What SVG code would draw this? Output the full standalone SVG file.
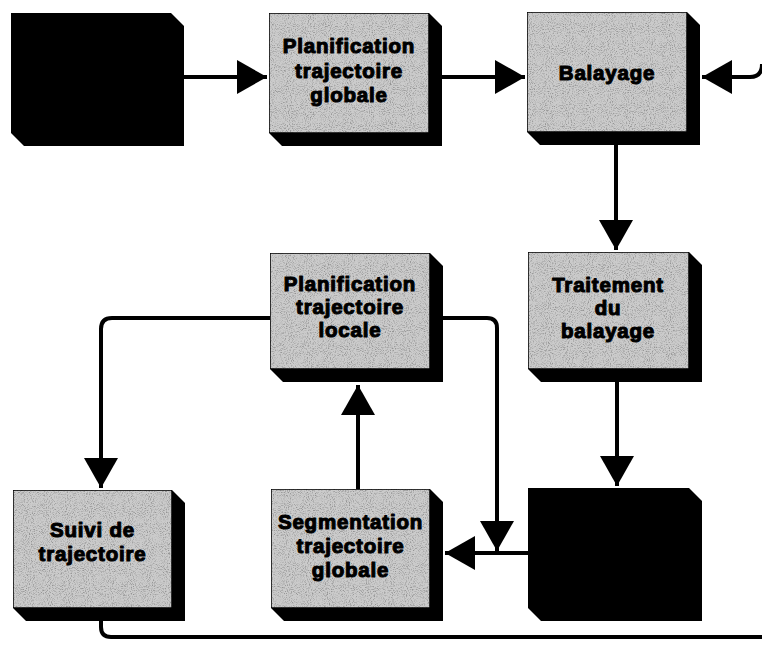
<svg xmlns="http://www.w3.org/2000/svg" width="762" height="667" viewBox="0 0 762 667">
  <style>
    .side { fill: #000; }
    .face { fill: #cbcbcb; stroke: #000; stroke-width: 1.5; filter: url(#grain); }
    .solid { fill: #000; }
    .lbl { font-family: "Liberation Sans", Arial, sans-serif; font-weight: bold; font-size: 20.5px; letter-spacing: 0.8px; fill: #000; stroke: #000; stroke-width: 1.1; stroke-linejoin: round; text-anchor: middle; }
    .wire { fill: none; stroke: #000; stroke-width: 4; }
  </style>
  <defs>
    <!-- speckled paper grain for the grey faces -->
    <filter id="grain" x="0" y="0" width="100%" height="100%">
      <feTurbulence type="fractalNoise" baseFrequency="0.95" numOctaves="2" seed="7" result="noise"/>
      <feColorMatrix in="noise" type="matrix" values="0 0 0 0 0  0 0 0 0 0  0 0 0 0 0  0 0 0 3 -1.4" result="dots"/>
      <feComposite in="dots" in2="SourceGraphic" operator="in" result="clipped"/>
      <feComponentTransfer in="clipped" result="soft">
        <feFuncA type="linear" slope="0.5"/>
      </feComponentTransfer>
      <feMerge>
        <feMergeNode in="SourceGraphic"/>
        <feMergeNode in="soft"/>
      </feMerge>
    </filter>
    <marker id="head" viewBox="0 0 30 34" markerWidth="30" markerHeight="34" refX="30" refY="17" orient="auto" markerUnits="userSpaceOnUse">
      <path d="M0,0 L30,17 L0,34 Z" fill="#000"/>
    </marker>
  </defs>

  <!-- connectors -->
  <g id="connectors">
    <path class="wire" d="M183,77 H267" marker-end="url(#head)"/>
    <path class="wire" d="M442,77 H525" marker-end="url(#head)"/>
    <path class="wire" d="M762,64 Q762,77 750,77 H702" marker-end="url(#head)"/>
    <path class="wire" d="M616,145 V250" marker-end="url(#head)"/>
    <path class="wire" d="M617,382 V486" marker-end="url(#head)"/>
    <path class="wire" d="M528,553 H445" marker-end="url(#head)"/>
    <path class="wire" d="M443,318 H487 Q497,318 497,328 V551" marker-end="url(#head)"/>
    <path class="wire" d="M358,489 V385" marker-end="url(#head)"/>
    <path class="wire" d="M270,318 H112 Q101,318 101,329 V488" marker-end="url(#head)"/>
    <path class="wire" d="M101,621 V627 Q101,637 111,637 H762"/>
  </g>

  <!-- solid black block, top left -->
  <g id="block-start">
    <path class="solid" d="M11,13 H171 L184,26 V146 H24 L11,133 Z"/>
  </g>

  <g id="planif-globale">
    <path class="side" d="M269,13 H429 L442,26 V146 H282 L269,133 Z"/>
    <rect class="face" x="269" y="13" width="160" height="120"/>
    <text class="lbl" x="349" y="53">Planification</text>
    <text class="lbl" x="349" y="78">trajectoire</text>
    <text class="lbl" x="349" y="102">globale</text>
  </g>

  <g id="balayage">
    <path class="side" d="M527,12 H687 L700,25 V145 H540 L527,132 Z"/>
    <rect class="face" x="527" y="12" width="160" height="120"/>
    <text class="lbl" x="607" y="80">Balayage</text>
  </g>

  <g id="traitement">
    <path class="side" d="M528,252 H689 L702,265 V382 H541 L528,369 Z"/>
    <rect class="face" x="528" y="252" width="161" height="117"/>
    <text class="lbl" x="608" y="292">Traitement</text>
    <text class="lbl" x="608" y="315">du</text>
    <text class="lbl" x="608" y="338">balayage</text>
  </g>

  <!-- solid black block, bottom right -->
  <g id="block-end">
    <path class="solid" d="M528,488 H689 L702,501 V621 H541 L528,608 Z"/>
  </g>

  <g id="planif-locale">
    <path class="side" d="M270,253 H430 L443,266 V382 H283 L270,369 Z"/>
    <rect class="face" x="270" y="253" width="160" height="116"/>
    <text class="lbl" x="350" y="291">Planification</text>
    <text class="lbl" x="350" y="314">trajectoire</text>
    <text class="lbl" x="350" y="337">locale</text>
  </g>

  <g id="segmentation">
    <path class="side" d="M271,489 H430 L443,502 V621 H284 L271,608 Z"/>
    <rect class="face" x="271" y="489" width="159" height="119"/>
    <text class="lbl" x="350.5" y="529">Segmentation</text>
    <text class="lbl" x="350.5" y="553">trajectoire</text>
    <text class="lbl" x="350.5" y="577">globale</text>
  </g>

  <g id="suivi">
    <path class="side" d="M13,490 H172 L185,503 V621 H26 L13,608 Z"/>
    <rect class="face" x="13" y="490" width="159" height="118"/>
    <text class="lbl" x="92.5" y="537">Suivi de</text>
    <text class="lbl" x="92.5" y="561">trajectoire</text>
  </g>
</svg>
